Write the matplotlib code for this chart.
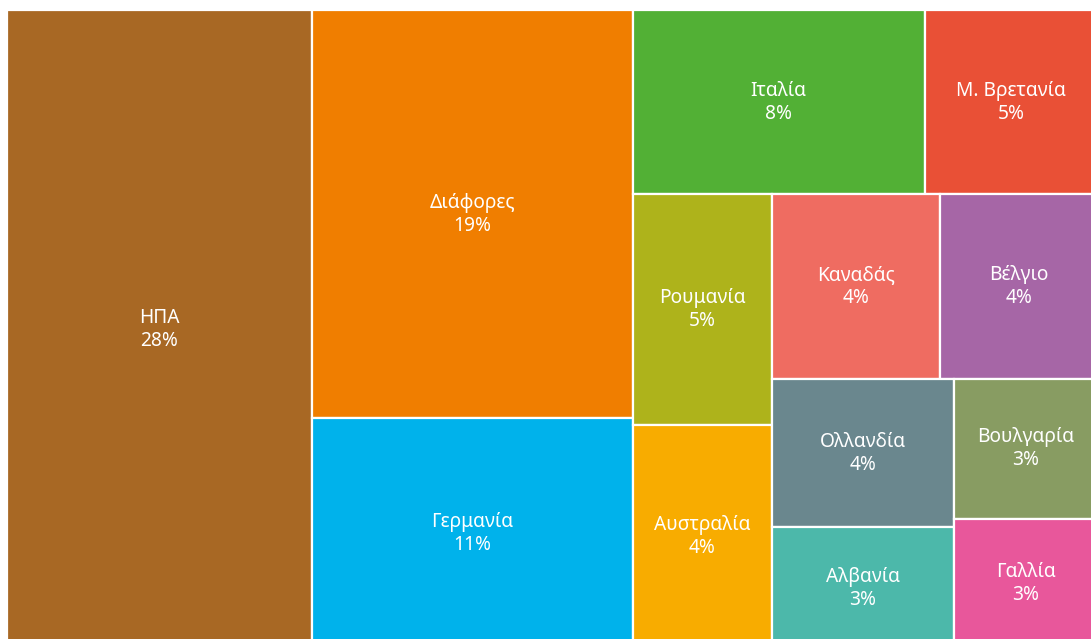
import matplotlib
matplotlib.use("Agg")
import matplotlib.pyplot as plt
from matplotlib.patches import Rectangle

# ---- data ----
countries = ["ΗΠΑ", "Διάφορες", "Γερμανία", "Ιταλία", "Μ. Βρετανία", "Ρουμανία",
             "Αυστραλία", "Καναδάς", "Βέλγιο", "Ολλανδία", "Αλβανία", "Βουλγαρία", "Γαλλία"]
shares = [27.96, 18.76, 10.62, 7.72, 4.59, 4.60, 4.48, 4.46, 4.17, 3.86, 3.18, 2.89, 2.69]
colors = ["#A86824", "#F07E00", "#00B2EB", "#52B035", "#E95036", "#AEB31B",
          "#F8AC00", "#EF6C61", "#A666A6", "#6A878E", "#4CB8AA", "#889C62", "#E8579B"]

plt.rcParams['font.family'] = ['Noto Sans', 'DejaVu Sans']


def squarify(values, x0, y0, x1, y1, ratio):
    n = len(values)
    rects = [None] * n
    value = float(sum(values))
    i0 = 0
    while i0 < n:
        dx, dy = x1 - x0, y1 - y0
        i1 = i0
        sumv = values[i1]
        i1 += 1
        minv = maxv = sumv
        alpha = max(dy / dx, dx / dy) / (value * ratio)
        beta = sumv * sumv * alpha
        minr = max(maxv / beta, beta / minv)
        while i1 < n:
            nv = values[i1]
            s2 = sumv + nv
            mn, mx = min(minv, nv), max(maxv, nv)
            beta = s2 * s2 * alpha
            nr = max(mx / beta, beta / mn)
            if nr > minr:
                break
            sumv, minv, maxv, minr = s2, mn, mx, nr
            i1 += 1
        if dx < dy:  # horizontal row across the top
            h = dy * sumv / value
            x = x0
            for k in range(i0, i1):
                w = dx * values[k] / sumv
                rects[k] = (x, y0, w, h)
                x += w
            y0 += h
        else:  # vertical column on the left
            w = dx * sumv / value
            y = y0
            for k in range(i0, i1):
                h = dy * values[k] / sumv
                rects[k] = (x0, y, w, h)
                y += h
            x0 += w
        value -= sumv
        i0 = i1
    return rects


W, H = 1091.0, 639.0
fig = plt.figure(figsize=(10.91, 6.39), dpi=100)
fig.patch.set_facecolor("white")
# the chart extends slightly past the right and bottom edges of the image
ax = fig.add_axes([7 / 1091, -10 / 639, 1, 1])
ax.set_xlim(0, W)
ax.set_ylim(H, 0)
ax.axis("off")

rects = squarify(shares, 0, 0, W, H, 0.83)
for name, v, c, (x, y, w, h) in zip(countries, shares, colors, rects):
    ax.add_patch(Rectangle((x, y), w, h, facecolor=c, edgecolor="white", linewidth=1.6))
    ax.text(x + w / 2, y + h / 2, f"{name}\n{round(v)}%", ha="center", va="center",
            color="white", fontsize=13.8, linespacing=1.2)

fig.savefig("out.png", dpi=100, facecolor="white")
